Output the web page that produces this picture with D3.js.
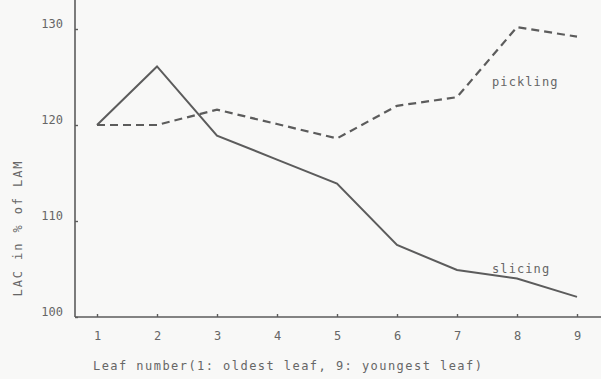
<!DOCTYPE html>
<html>
<head>
<meta charset="utf-8">
<script src="https://cdn.jsdelivr.net/npm/d3@7"></script>
<style>
  html, body { margin: 0; padding: 0; background: #f8f8f7; }
  svg { display: block; }
  text { font-family: "DejaVu Sans Mono", "Liberation Mono", monospace; fill: #666; }
</style>
</head>
<body>
<svg id="chart" width="601" height="379"></svg>
<script>
const leafNumbers = [1, 2, 3, 4, 5, 6, 7, 8, 9];
const slicing  = [120, 126.1, 118.9, 116.4, 113.9, 107.5, 104.9, 104.0, 102.1];
const pickling = [120, 120, 121.6, 120.1, 118.6, 122.0, 122.9, 130.2, 129.2];
const yTicks = [100, 110, 120, 130];
const xTickLabels = ["1", "2", "3", "4", "5", "6", "7", "8", "9"];
const seriesNames = ["slicing", "pickling"];
const xTitle = "Leaf number(1: oldest leaf, 9: youngest leaf)";
const yTitle = "LAC in % of LAM";

const svg = d3.select("#chart");
const W = 601, H = 379;
const axisX = 75, axisY = 317;

const x = d3.scaleLinear().domain([1, 9]).range([97, 577]);
const y = d3.scaleLinear().domain([100, 130]).range([axisY, 29]);

const ink = "#5c5c5c";

// axes lines
svg.append("line").attr("x1", axisX).attr("x2", axisX).attr("y1", 0).attr("y2", axisY)
  .attr("stroke", ink).attr("stroke-width", 1.6);
svg.append("line").attr("x1", axisX).attr("x2", W).attr("y1", axisY).attr("y2", axisY)
  .attr("stroke", ink).attr("stroke-width", 1.6);

// y axis
const yAxis = svg.append("g").attr("transform", `translate(${axisX},0)`)
  .call(d3.axisLeft(y).tickValues(yTicks).tickSizeInner(-3).tickSizeOuter(0).tickPadding(12));
yAxis.select(".domain").remove();
yAxis.selectAll(".tick line").attr("stroke", ink).attr("stroke-width", 1.4);
yAxis.selectAll(".tick text")
  .attr("font-family", "\"DejaVu Sans Mono\", monospace")
  .attr("font-size", 12).attr("fill", "#666").attr("dy", "-0.1em");

// x axis
const xAxis = svg.append("g").attr("transform", `translate(0,${axisY})`)
  .call(d3.axisBottom(x).tickValues(leafNumbers).tickFormat((d, i) => xTickLabels[i])
    .tickSizeInner(-3).tickSizeOuter(0).tickPadding(14));
xAxis.select(".domain").remove();
xAxis.selectAll(".tick line").attr("stroke", ink).attr("stroke-width", 1.4);
xAxis.selectAll(".tick text")
  .attr("font-family", "\"DejaVu Sans Mono\", monospace")
  .attr("font-size", 12).attr("fill", "#666");

// lines
const line = d3.line().x((d, i) => x(leafNumbers[i])).y(d => y(d));
svg.append("path").datum(slicing).attr("d", line)
  .attr("fill", "none").attr("stroke", ink).attr("stroke-width", 2).attr("stroke-linejoin", "miter");
svg.append("path").datum(pickling).attr("d", line)
  .attr("fill", "none").attr("stroke", ink).attr("stroke-width", 2.2)
  .attr("stroke-dasharray", "8,5");

// series labels
svg.append("text").attr("x", 492).attr("y", 86).attr("font-size", 12)
  .attr("letter-spacing", 1.1).text(seriesNames[1]);
svg.append("text").attr("x", 492).attr("y", 273).attr("font-size", 12)
  .attr("letter-spacing", 1.1).text(seriesNames[0]);

// titles
svg.append("text").attr("x", 93).attr("y", 370).attr("font-size", 12)
  .attr("letter-spacing", 1.45).text(xTitle);
svg.append("text").attr("transform", "translate(22,228) rotate(-90)")
  .attr("text-anchor", "middle").attr("font-size", 12)
  .attr("letter-spacing", 1.9).text(yTitle);
</script>
</body>
</html>
